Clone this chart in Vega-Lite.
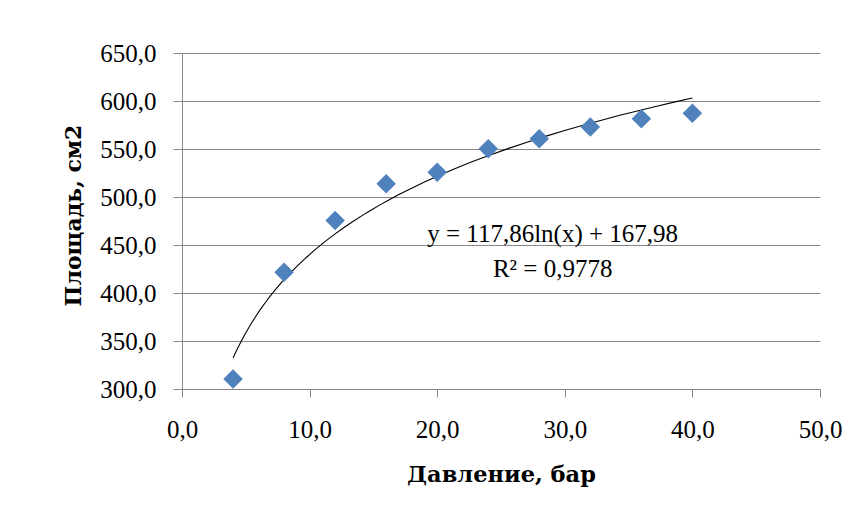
{
  "$schema": "https://vega.github.io/schema/vega-lite/v6.json",
  "width": 638,
  "height": 336,
  "autosize": {"type": "none"},
  "padding": {"left": 182, "top": 53, "right": 45, "bottom": 134},
  "background": "white",
  "config": {
    "view": {"stroke": null},
    "font": "Liberation Serif"
  },
  "data": {
    "values": [
      {"p": 4, "s": 310.4},
      {"p": 8, "s": 421.6},
      {"p": 12, "s": 475.5},
      {"p": 16, "s": 513.8},
      {"p": 20, "s": 525.9},
      {"p": 24, "s": 550.3},
      {"p": 28, "s": 560.7},
      {"p": 32, "s": 572.8},
      {"p": 36, "s": 581.6},
      {"p": 40, "s": 587.2}
    ]
  },
  "encoding": {
    "x": {
      "field": "p",
      "type": "quantitative",
      "scale": {"domain": [0, 50], "nice": false, "zero": false},
      "axis": {
        "title": "Давление, бар",
        "values": [0, 10, 20, 30, 40, 50],
        "labelExpr": "replace(format(datum.value, '.1f'), '.', ',')",
        "grid": false,
        "domainColor": "#878787",
        "tickColor": "#878787",
        "tickSize": 8,
        "labelPadding": 20,
        "labelFont": "Liberation Serif",
        "labelFontSize": 25,
        "labelColor": "#000000",
        "labelFlush": false,
        "titleFont": "DejaVu Serif",
        "titleFontWeight": "bold",
        "titleFontSize": 22.5,
        "titleColor": "#000000",
        "titleBaseline": "alphabetic",
        "titleY": 92
      }
    },
    "y": {
      "field": "s",
      "type": "quantitative",
      "scale": {"domain": [300, 650], "nice": false, "zero": false},
      "axis": {
        "title": "Площадь, см2",
        "values": [300, 350, 400, 450, 500, 550, 600, 650],
        "labelExpr": "replace(format(datum.value, '.1f'), '.', ',')",
        "grid": true,
        "gridColor": "#878787",
        "gridWidth": 1,
        "domainColor": "#878787",
        "tickColor": "#878787",
        "tickSize": 9,
        "labelPadding": 17,
        "labelFont": "Liberation Serif",
        "labelFontSize": 25,
        "labelColor": "#000000",
        "labelFlush": false,
        "titleFont": "DejaVu Serif",
        "titleFontWeight": "bold",
        "titleFontSize": 22,
        "titleColor": "#000000",
        "titleBaseline": "middle",
        "titleX": -109,
        "titleY": 162
      }
    }
  },
  "layer": [
    {
      "transform": [{"regression": "s", "on": "p", "method": "log"}],
      "mark": {"type": "line", "color": "#000000", "strokeWidth": 1.1}
    },
    {
      "mark": {"type": "point", "shape": "diamond", "filled": true, "size": 380, "color": "#4F81BD", "opacity": 1}
    },
    {
      "transform": [{"filter": "datum.p == 4"}],
      "mark": {
        "type": "text",
        "text": ["y = 117,86ln(x) + 167,98", "R² = 0,9778"],
        "font": "Liberation Serif",
        "fontSize": 25,
        "align": "center",
        "baseline": "alphabetic",
        "lineHeight": 35,
        "color": "#000000"
      },
      "encoding": {
        "x": {"datum": 29.05},
        "y": {"datum": 453}
      }
    }
  ]
}
